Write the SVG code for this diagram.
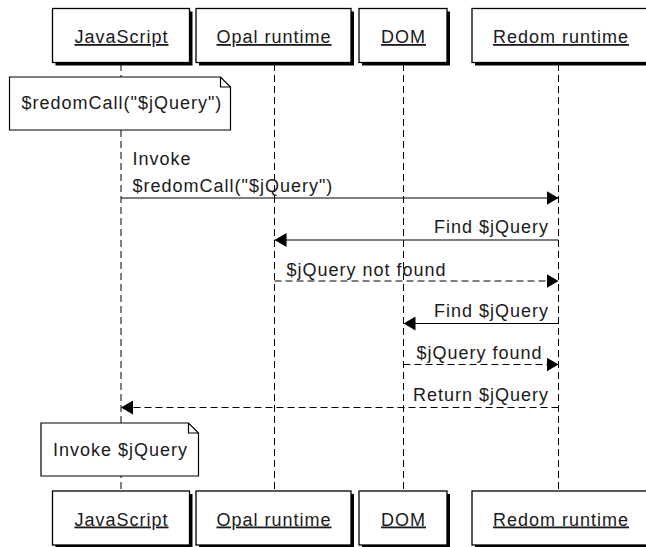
<svg xmlns="http://www.w3.org/2000/svg" width="646" height="547" viewBox="0 0 646 547">
<style>
text{font-family:"Liberation Sans",Arial,sans-serif;font-size:18px;letter-spacing:1px;fill:#1a1a1a}
.hd{text-anchor:middle;text-decoration:underline}
.box{fill:#fff;stroke:#000;stroke-width:1.3}
.sh{fill:#000}
.life{stroke:#000;stroke-width:1;stroke-dasharray:7 4;fill:none}
.msg{stroke:#000;stroke-width:1.2;fill:none}
.dash{stroke-dasharray:7 4}
.note{fill:#fff;stroke:#000;stroke-width:1.2}
.end{text-anchor:end}
</style>
<defs>
<marker id="ah" viewBox="0 0 12 14" refX="12" refY="7" markerWidth="12" markerHeight="14" markerUnits="userSpaceOnUse" orient="auto">
<path d="M0,0 L12,7 L0,14 Z" fill="#000"/>
</marker>
</defs>
<g id="lifelines">
<line class="life" x1="121" y1="64" x2="121" y2="491"/>
<line class="life" x1="274.5" y1="64" x2="274.5" y2="491"/>
<line class="life" x1="403.5" y1="64" x2="403.5" y2="491"/>
<line class="life" x1="558.5" y1="64" x2="558.5" y2="491"/>
</g>
<g id="js-top"><rect class="sh" x="55.5" y="11.5" width="137" height="54"/><rect class="box" x="52.5" y="8.5" width="137" height="54"/><text class="hd" x="121.5" y="43">JavaScript</text></g>
<g id="opal-top"><rect class="sh" x="199" y="11.5" width="155" height="54"/><rect class="box" x="196" y="8.5" width="155" height="54"/><text class="hd" x="274" y="43">Opal runtime</text></g>
<g id="dom-top"><rect class="sh" x="362" y="11.5" width="88" height="54"/><rect class="box" x="359" y="8.5" width="88" height="54"/><text class="hd" x="403.5" y="43">DOM</text></g>
<g id="redom-top"><rect class="sh" x="475" y="11.5" width="177" height="54"/><rect class="box" x="472" y="8.5" width="177" height="54"/><text class="hd" x="561" y="43">Redom runtime</text></g>
<g id="js-bottom"><rect class="sh" x="55.5" y="494" width="137" height="54"/><rect class="box" x="52.5" y="491" width="137" height="54"/><text class="hd" x="121.5" y="525.5">JavaScript</text></g>
<g id="opal-bottom"><rect class="sh" x="199" y="494" width="155" height="54"/><rect class="box" x="196" y="491" width="155" height="54"/><text class="hd" x="274" y="525.5">Opal runtime</text></g>
<g id="dom-bottom"><rect class="sh" x="362" y="494" width="88" height="54"/><rect class="box" x="359" y="491" width="88" height="54"/><text class="hd" x="403.5" y="525.5">DOM</text></g>
<g id="redom-bottom"><rect class="sh" x="475" y="494" width="177" height="54"/><rect class="box" x="472" y="491" width="177" height="54"/><text class="hd" x="561" y="525.5">Redom runtime</text></g>
<g id="note1"><path class="note" d="M9.5,77 H220.5 L230.5,87 V130 H9.5 Z M220.5,77 V87 H230.5"/><text x="21.5" y="109">$redomCall("$jQuery")</text></g>
<g id="note2"><path class="note" d="M41,423 H188.5 L198.5,433 V476 H41 Z M188.5,423 V433 H198.5"/><text x="53" y="456">Invoke $jQuery</text></g>
<g id="connectors">
<line class="msg" x1="121" y1="198" x2="558.5" y2="198" marker-end="url(#ah)"/>
<line class="msg" x1="558.5" y1="240" x2="274.5" y2="240" marker-end="url(#ah)"/>
<line class="msg dash" x1="274.5" y1="281" x2="558.5" y2="281" marker-end="url(#ah)"/>
<line class="msg" x1="558.5" y1="323.5" x2="403.5" y2="323.5" marker-end="url(#ah)"/>
<line class="msg dash" x1="403.5" y1="364.5" x2="558.5" y2="364.5" marker-end="url(#ah)"/>
<line class="msg dash" x1="558.5" y1="407.5" x2="121" y2="407.5" marker-end="url(#ah)"/>
</g>
<g id="labels">
<text x="132.5" y="165">Invoke</text>
<text x="132.5" y="191.5">$redomCall("$jQuery")</text>
<text class="end" x="549" y="233">Find $jQuery</text>
<text x="286.5" y="276">$jQuery not found</text>
<text class="end" x="549" y="317">Find $jQuery</text>
<text x="416.5" y="359">$jQuery found</text>
<text class="end" x="549" y="401">Return $jQuery</text>
</g>
</svg>
